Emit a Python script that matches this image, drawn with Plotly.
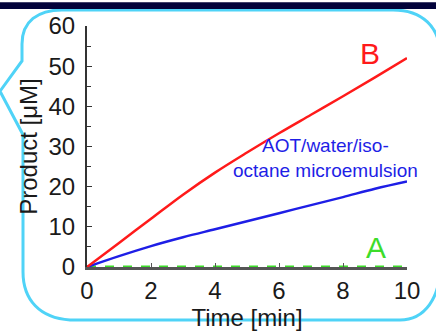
import plotly.graph_objects as go

# ---- data ----
time_min = [0, 1, 2, 3, 4, 5, 6, 7, 8, 9, 10]
series_B = [0, 6, 12, 18, 23.5, 28.5, 33.3, 37.9, 42.5, 47.2, 52]
series_AOT = [0, 2.7, 5.2, 7.4, 9.4, 11.4, 13.4, 15.4, 17.4, 19.5, 21.3]
series_A = [0, 0, 0, 0, 0, 0, 0, 0, 0, 0, 0]
x_ticks = [0, 2, 4, 6, 8, 10]
y_ticks = [0, 10, 20, 30, 40, 50, 60]

W, H = 436, 332
L, R, T, B = 87, 29, 25, 52
PW, PH = W - L - R, H - T - B

def px(x):
    return (x - L) / PW

def py(y):
    return (H - B - y) / PH

def P(x, y):
    return f"{px(x):.5f},{py(y):.5f}"

FONT = "Liberation Sans, Arial, sans-serif"

fig = go.Figure()
fig.add_trace(go.Scatter(x=time_min, y=series_A, mode="lines",
                         line=dict(color="#3ddc2a", width=3, dash="dash"), cliponaxis=False,
                         showlegend=False))
fig.add_trace(go.Scatter(x=time_min, y=series_AOT, mode="lines", line_shape="spline",
                         line=dict(color="#1e1ee6", width=2.5), cliponaxis=False,
                         showlegend=False))
fig.add_trace(go.Scatter(x=time_min, y=series_B, mode="lines", line_shape="spline",
                         line=dict(color="#ff1a1a", width=2.5), cliponaxis=False,
                         showlegend=False))

border = ("M " + P(22, 44) + " C " + P(22, 20) + " " + P(38, 8) + " " + P(62, 8)
          + " L " + P(393, 8) + " C " + P(422, 8) + " " + P(440, 26) + " " + P(440, 55)
          + " L " + P(440, 280) + " C " + P(440, 312) + " " + P(425, 336) + " " + P(400, 336)
          + " L " + P(70, 336) + " C " + P(40, 334) + " " + P(23, 315) + " " + P(23, 285)
          + " L " + P(23, 140) + " L " + P(0, 94) + " L " + P(22, 62) + " Z")

fig.update_layout(
    width=W, height=H,
    margin=dict(l=L, r=R, t=T, b=B),
    paper_bgcolor="white", plot_bgcolor="white",
    font=dict(family=FONT, size=24, color="#1a1a1a"),
    xaxis=dict(range=[0, 10], tickvals=x_ticks, showgrid=False, zeroline=False,
               showline=True, linecolor="#555555", linewidth=2.5,
               ticks="inside", ticklen=4, tickcolor="#555555",
               tickfont=dict(size=24, family=FONT, color="#1a1a1a"),
               title=dict(text="Time [min]", font=dict(size=24, family=FONT), standoff=0)),
    yaxis=dict(range=[0, 60], tickvals=y_ticks, showgrid=False, zeroline=False,
               showline=True, linecolor="#333333", linewidth=2,
               ticks="inside", ticklen=5, tickcolor="#333333",
               minor=dict(dtick=5, ticks="inside", ticklen=4, tickcolor="#333333"),
               ticklabelstandoff=5,
               tickfont=dict(size=24, family=FONT, color="#1a1a1a"),
               title=dict(text="Product [μM]", font=dict(size=24, family=FONT), standoff=4)),
    shapes=[
        dict(type="path", xref="paper", yref="paper", path=border,
             line=dict(color="#4fd3f7", width=3), fillcolor="rgba(0,0,0,0)", layer="below"),
        dict(type="rect", xref="paper", yref="paper", x0=px(0), x1=px(W), y0=py(0), y1=py(7),
             line=dict(width=0), fillcolor="#02023a", layer="above"),
    ],
    annotations=[
        dict(text="B", x=px(370), y=py(54), xref="paper", yref="paper", showarrow=False,
             font=dict(size=30, color="#ff1a1a", family=FONT), xanchor="center", yanchor="middle"),
        dict(text="A", x=px(376), y=py(259), xref="paper", yref="paper", showarrow=False,
             font=dict(size=30, color="#3ddc2a", family=FONT), xanchor="center", yanchor="middle"),
        dict(text="AOT/water/iso-<br>octane microemulsion", x=px(325), y=py(165),
             xref="paper", yref="paper", showarrow=False, align="center",
             font=dict(size=19, color="#1e1ee6", family=FONT), xanchor="center", yanchor="middle"),
    ],
)

fig.write_html("out.html", config={"displayModeBar": False},
               post_script="document.body.style.margin='0';document.body.style.overflow='hidden';")
